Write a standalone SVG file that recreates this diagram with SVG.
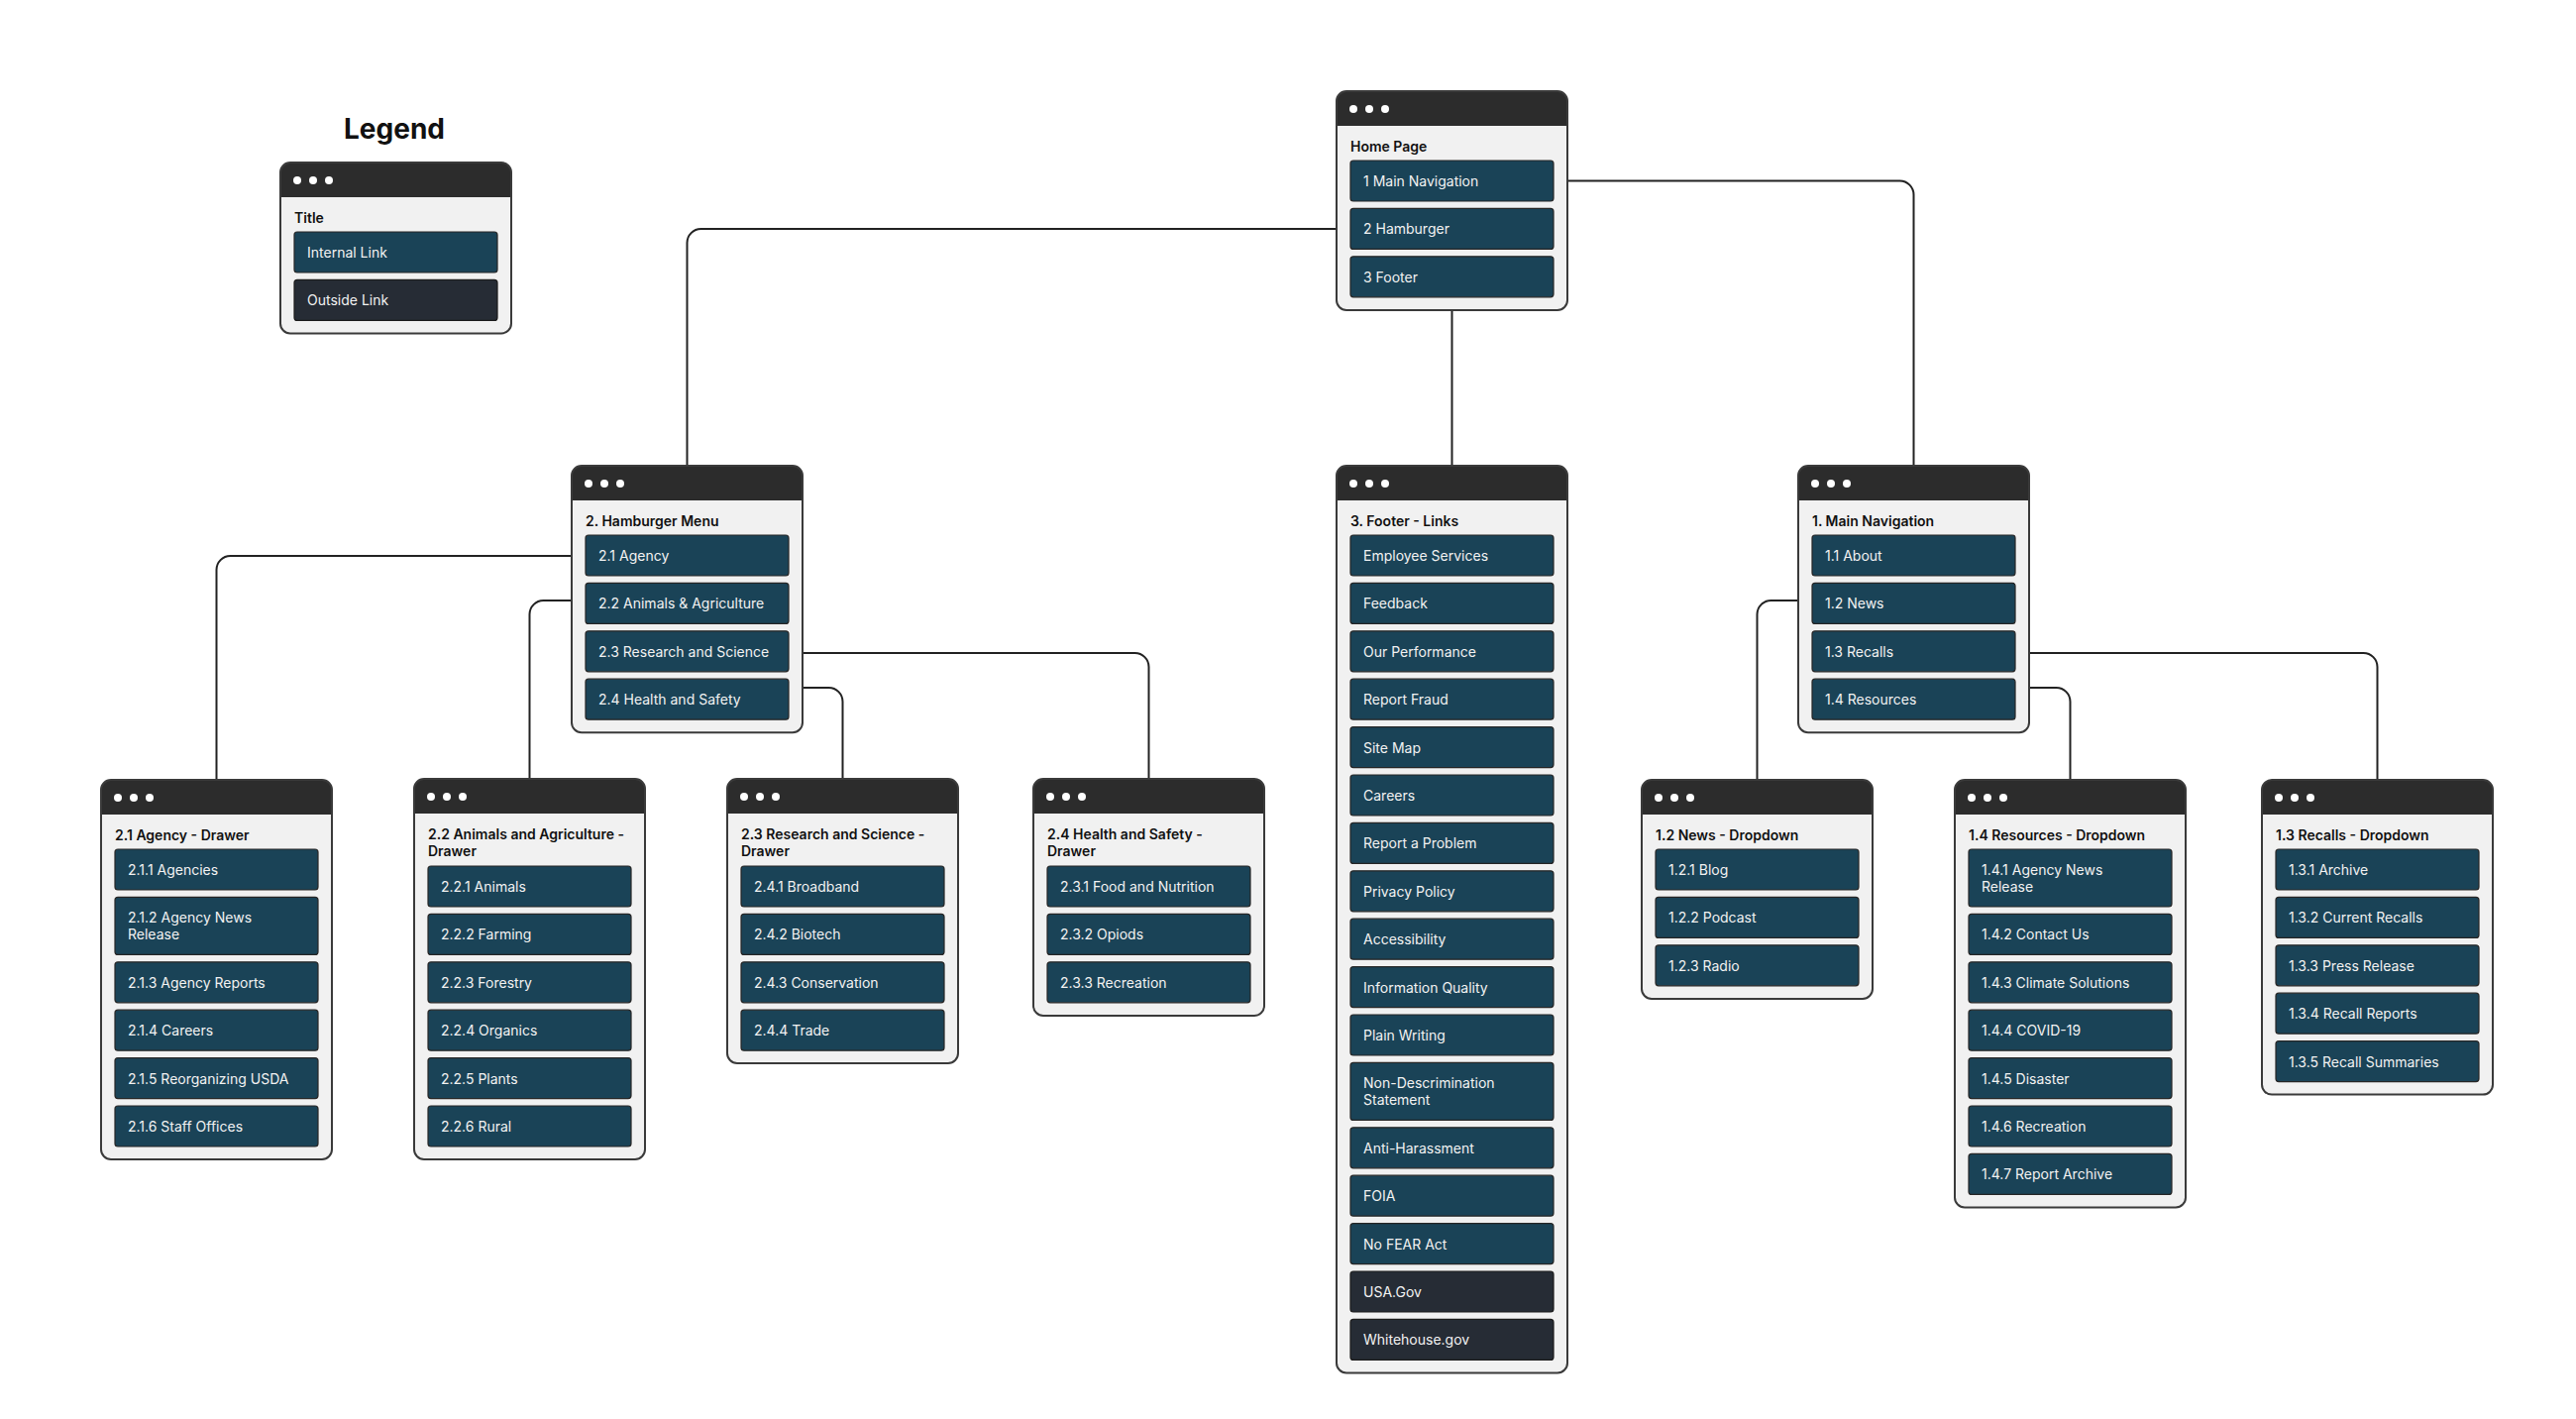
<svg xmlns="http://www.w3.org/2000/svg" width="2600" height="1432" viewBox="0 0 2600 1432">
<style>
.bg{fill:#ffffff}
.card{fill:#f1f1f1}
.hdr{fill:#2c2c2c}
.dot{fill:#ffffff}
.outline{fill:none;stroke:#3a3a3a;stroke-width:2}
.btn{fill:#1a4357;stroke:#262626;stroke-width:1.2}
.out{fill:#262c35;stroke:#1c1c1c;stroke-width:1.2}
.ttl{font-family:Inter,"Liberation Sans",sans-serif;font-size:14px;font-weight:600;fill:#111111}
.bt{font-family:Inter,"Liberation Sans",sans-serif;font-size:14px;font-weight:400;fill:#f2f2f2}
.legend{font-family:Inter,"Liberation Sans",sans-serif;font-size:28px;font-weight:700;fill:#111111}
.conn{fill:none;stroke:#222222;stroke-width:2}
</style>
<defs>
<path id="hdr" class="hdr" d="M0,35V10A10,10 0 0 1 10,0H223A10,10 0 0 1 233,10V35Z"/>
<g id="dots"><circle class="dot" cx="17" cy="18" r="4"/><circle class="dot" cx="33" cy="18" r="4"/><circle class="dot" cx="49" cy="18" r="4"/></g>
</defs>
<rect class="bg" width="2600" height="1432"/>

<g id="connectors">
<path class="conn" d="M1349,231H707.5A14,14 0 0 0 693.5,245V470"/>
<path class="conn" d="M1582,182.5H1917.5A14,14 0 0 1 1931.5,196.5V470"/>
<path class="conn" d="M1465.5,313V470"/>
<path class="conn" d="M577,561H232.5A14,14 0 0 0 218.5,575V787"/>
<path class="conn" d="M577,606H548.5A14,14 0 0 0 534.5,620V786"/>
<path class="conn" d="M810,659H1145.5A14,14 0 0 1 1159.5,673V786"/>
<path class="conn" d="M810,694H836.5A14,14 0 0 1 850.5,708V786"/>
<path class="conn" d="M1815,606H1787.5A14,14 0 0 0 1773.5,620V787"/>
<path class="conn" d="M2048,659H2385.5A14,14 0 0 1 2399.5,673V787"/>
<path class="conn" d="M2048,694H2075.5A14,14 0 0 1 2089.5,708V787"/>
</g>

<g id="legend">
<text class="legend" x="398" y="140" text-anchor="middle">Legend</text>
<g transform="translate(283,164)">
<rect class="card" width="233" height="172.4" rx="10"/>
<use href="#hdr"/><use href="#dots"/>
<rect class="outline" width="233" height="172.4" rx="10"/>
<text class="ttl" x="14" y="61">Title</text>
<rect class="btn" x="14" y="70" width="205" height="41" rx="3"/><text class="bt" x="27" y="96">Internal Link</text>
<rect class="out" x="14" y="118.4" width="205" height="41" rx="3"/><text class="bt" x="27" y="144.4">Outside Link</text>
</g>
</g>

<g id="home" transform="translate(1349,92)">
<rect class="card" width="233" height="221" rx="10"/>
<use href="#hdr"/><use href="#dots"/>
<rect class="outline" width="233" height="221" rx="10"/>
<text class="ttl" x="14" y="61">Home Page</text>
<rect class="btn" x="14" y="70" width="205" height="41" rx="3"/><text class="bt" x="27" y="96">1 Main Navigation</text>
<rect class="btn" x="14" y="118.4" width="205" height="41" rx="3"/><text class="bt" x="27" y="144.4">2 Hamburger</text>
<rect class="btn" x="14" y="166.8" width="205" height="41" rx="3"/><text class="bt" x="27" y="192.8">3 Footer</text>
</g>

<g id="hamburger" transform="translate(577,470)">
<rect class="card" width="233" height="269.2" rx="10"/>
<use href="#hdr"/><use href="#dots"/>
<rect class="outline" width="233" height="269.2" rx="10"/>
<text class="ttl" x="14" y="61">2. Hamburger Menu</text>
<rect class="btn" x="14" y="70" width="205" height="41" rx="3"/><text class="bt" x="27" y="96">2.1 Agency</text>
<rect class="btn" x="14" y="118.4" width="205" height="41" rx="3"/><text class="bt" x="27" y="144.4">2.2 Animals &amp; Agriculture</text>
<rect class="btn" x="14" y="166.8" width="205" height="41" rx="3"/><text class="bt" x="27" y="192.8">2.3 Research and Science</text>
<rect class="btn" x="14" y="215.2" width="205" height="41" rx="3"/><text class="bt" x="27" y="241.2">2.4 Health and Safety</text>
</g>

<g id="footer" transform="translate(1349,470)">
<rect class="card" width="233" height="915.4" rx="10"/>
<use href="#hdr"/><use href="#dots"/>
<rect class="outline" width="233" height="915.4" rx="10"/>
<text class="ttl" x="14" y="61">3. Footer - Links</text>
<rect class="btn" x="14" y="70" width="205" height="41" rx="3"/><text class="bt" x="27" y="96">Employee Services</text>
<rect class="btn" x="14" y="118.4" width="205" height="41" rx="3"/><text class="bt" x="27" y="144.4">Feedback</text>
<rect class="btn" x="14" y="166.8" width="205" height="41" rx="3"/><text class="bt" x="27" y="192.8">Our Performance</text>
<rect class="btn" x="14" y="215.2" width="205" height="41" rx="3"/><text class="bt" x="27" y="241.2">Report Fraud</text>
<rect class="btn" x="14" y="263.6" width="205" height="41" rx="3"/><text class="bt" x="27" y="289.6">Site Map</text>
<rect class="btn" x="14" y="312" width="205" height="41" rx="3"/><text class="bt" x="27" y="338">Careers</text>
<rect class="btn" x="14" y="360.4" width="205" height="41" rx="3"/><text class="bt" x="27" y="386.4">Report a Problem</text>
<rect class="btn" x="14" y="408.8" width="205" height="41" rx="3"/><text class="bt" x="27" y="434.8">Privacy Policy</text>
<rect class="btn" x="14" y="457.2" width="205" height="41" rx="3"/><text class="bt" x="27" y="483.2">Accessibility</text>
<rect class="btn" x="14" y="505.6" width="205" height="41" rx="3"/><text class="bt" x="27" y="531.6">Information Quality</text>
<rect class="btn" x="14" y="554" width="205" height="41" rx="3"/><text class="bt" x="27" y="580">Plain Writing</text>
<rect class="btn" x="14" y="602.4" width="205" height="58" rx="3"/><text class="bt" x="27" y="628.4">Non-Descrimination</text><text class="bt" x="27" y="645.4">Statement</text>
<rect class="btn" x="14" y="667.8" width="205" height="41" rx="3"/><text class="bt" x="27" y="693.8">Anti-Harassment</text>
<rect class="btn" x="14" y="716.2" width="205" height="41" rx="3"/><text class="bt" x="27" y="742.2">FOIA</text>
<rect class="btn" x="14" y="764.6" width="205" height="41" rx="3"/><text class="bt" x="27" y="790.6">No FEAR Act</text>
<rect class="out" x="14" y="813" width="205" height="41" rx="3"/><text class="bt" x="27" y="839">USA.Gov</text>
<rect class="out" x="14" y="861.4" width="205" height="41" rx="3"/><text class="bt" x="27" y="887.4">Whitehouse.gov</text>
</g>

<g id="main-navigation" transform="translate(1815,470)">
<rect class="card" width="233" height="269.2" rx="10"/>
<use href="#hdr"/><use href="#dots"/>
<rect class="outline" width="233" height="269.2" rx="10"/>
<text class="ttl" x="14" y="61">1. Main Navigation</text>
<rect class="btn" x="14" y="70" width="205" height="41" rx="3"/><text class="bt" x="27" y="96">1.1 About</text>
<rect class="btn" x="14" y="118.4" width="205" height="41" rx="3"/><text class="bt" x="27" y="144.4">1.2 News</text>
<rect class="btn" x="14" y="166.8" width="205" height="41" rx="3"/><text class="bt" x="27" y="192.8">1.3 Recalls</text>
<rect class="btn" x="14" y="215.2" width="205" height="41" rx="3"/><text class="bt" x="27" y="241.2">1.4 Resources</text>
</g>

<g id="agency-drawer" transform="translate(102,787)">
<rect class="card" width="233" height="383" rx="10"/>
<use href="#hdr"/><use href="#dots"/>
<rect class="outline" width="233" height="383" rx="10"/>
<text class="ttl" x="14" y="61">2.1 Agency - Drawer</text>
<rect class="btn" x="14" y="70" width="205" height="41" rx="3"/><text class="bt" x="27" y="96">2.1.1 Agencies</text>
<rect class="btn" x="14" y="118.4" width="205" height="58" rx="3"/><text class="bt" x="27" y="144.4">2.1.2 Agency News</text><text class="bt" x="27" y="161.4">Release</text>
<rect class="btn" x="14" y="183.8" width="205" height="41" rx="3"/><text class="bt" x="27" y="209.8">2.1.3 Agency Reports</text>
<rect class="btn" x="14" y="232.2" width="205" height="41" rx="3"/><text class="bt" x="27" y="258.2">2.1.4 Careers</text>
<rect class="btn" x="14" y="280.6" width="205" height="41" rx="3"/><text class="bt" x="27" y="306.6">2.1.5 Reorganizing USDA</text>
<rect class="btn" x="14" y="329" width="205" height="41" rx="3"/><text class="bt" x="27" y="355">2.1.6 Staff Offices</text>
</g>

<g id="animals-drawer" transform="translate(418,786)">
<rect class="card" width="233" height="384" rx="10"/>
<use href="#hdr"/><use href="#dots"/>
<rect class="outline" width="233" height="384" rx="10"/>
<text class="ttl" x="14" y="61">2.2 Animals and Agriculture -</text><text class="ttl" x="14" y="77.5">Drawer</text>
<rect class="btn" x="14" y="88" width="205" height="41" rx="3"/><text class="bt" x="27" y="114">2.2.1 Animals</text>
<rect class="btn" x="14" y="136.4" width="205" height="41" rx="3"/><text class="bt" x="27" y="162.4">2.2.2 Farming</text>
<rect class="btn" x="14" y="184.8" width="205" height="41" rx="3"/><text class="bt" x="27" y="210.8">2.2.3 Forestry</text>
<rect class="btn" x="14" y="233.2" width="205" height="41" rx="3"/><text class="bt" x="27" y="259.2">2.2.4 Organics</text>
<rect class="btn" x="14" y="281.6" width="205" height="41" rx="3"/><text class="bt" x="27" y="307.6">2.2.5 Plants</text>
<rect class="btn" x="14" y="330" width="205" height="41" rx="3"/><text class="bt" x="27" y="356">2.2.6 Rural</text>
</g>

<g id="research-drawer" transform="translate(734,786)">
<rect class="card" width="233" height="287" rx="10"/>
<use href="#hdr"/><use href="#dots"/>
<rect class="outline" width="233" height="287" rx="10"/>
<text class="ttl" x="14" y="61">2.3 Research and Science -</text><text class="ttl" x="14" y="77.5">Drawer</text>
<rect class="btn" x="14" y="88" width="205" height="41" rx="3"/><text class="bt" x="27" y="114">2.4.1 Broadband</text>
<rect class="btn" x="14" y="136.4" width="205" height="41" rx="3"/><text class="bt" x="27" y="162.4">2.4.2 Biotech</text>
<rect class="btn" x="14" y="184.8" width="205" height="41" rx="3"/><text class="bt" x="27" y="210.8">2.4.3 Conservation</text>
<rect class="btn" x="14" y="233.2" width="205" height="41" rx="3"/><text class="bt" x="27" y="259.2">2.4.4 Trade</text>
</g>

<g id="health-drawer" transform="translate(1043,786)">
<rect class="card" width="233" height="239" rx="10"/>
<use href="#hdr"/><use href="#dots"/>
<rect class="outline" width="233" height="239" rx="10"/>
<text class="ttl" x="14" y="61">2.4 Health and Safety -</text><text class="ttl" x="14" y="77.5">Drawer</text>
<rect class="btn" x="14" y="88" width="205" height="41" rx="3"/><text class="bt" x="27" y="114">2.3.1 Food and Nutrition</text>
<rect class="btn" x="14" y="136.4" width="205" height="41" rx="3"/><text class="bt" x="27" y="162.4">2.3.2 Opiods</text>
<rect class="btn" x="14" y="184.8" width="205" height="41" rx="3"/><text class="bt" x="27" y="210.8">2.3.3 Recreation</text>
</g>

<g id="news-dropdown" transform="translate(1657,787)">
<rect class="card" width="233" height="221" rx="10"/>
<use href="#hdr"/><use href="#dots"/>
<rect class="outline" width="233" height="221" rx="10"/>
<text class="ttl" x="14" y="61">1.2 News - Dropdown</text>
<rect class="btn" x="14" y="70" width="205" height="41" rx="3"/><text class="bt" x="27" y="96">1.2.1 Blog</text>
<rect class="btn" x="14" y="118.4" width="205" height="41" rx="3"/><text class="bt" x="27" y="144.4">1.2.2 Podcast</text>
<rect class="btn" x="14" y="166.8" width="205" height="41" rx="3"/><text class="bt" x="27" y="192.8">1.2.3 Radio</text>
</g>

<g id="resources-dropdown" transform="translate(1973,787)">
<rect class="card" width="233" height="431.4" rx="10"/>
<use href="#hdr"/><use href="#dots"/>
<rect class="outline" width="233" height="431.4" rx="10"/>
<text class="ttl" x="14" y="61">1.4 Resources - Dropdown</text>
<rect class="btn" x="14" y="70" width="205" height="58" rx="3"/><text class="bt" x="27" y="96">1.4.1 Agency News</text><text class="bt" x="27" y="113">Release</text>
<rect class="btn" x="14" y="135.4" width="205" height="41" rx="3"/><text class="bt" x="27" y="161.4">1.4.2 Contact Us</text>
<rect class="btn" x="14" y="183.8" width="205" height="41" rx="3"/><text class="bt" x="27" y="209.8">1.4.3 Climate Solutions</text>
<rect class="btn" x="14" y="232.2" width="205" height="41" rx="3"/><text class="bt" x="27" y="258.2">1.4.4 COVID-19</text>
<rect class="btn" x="14" y="280.6" width="205" height="41" rx="3"/><text class="bt" x="27" y="306.6">1.4.5 Disaster</text>
<rect class="btn" x="14" y="329" width="205" height="41" rx="3"/><text class="bt" x="27" y="355">1.4.6 Recreation</text>
<rect class="btn" x="14" y="377.4" width="205" height="41" rx="3"/><text class="bt" x="27" y="403.4">1.4.7 Report Archive</text>
</g>

<g id="recalls-dropdown" transform="translate(2283,787)">
<rect class="card" width="233" height="317.6" rx="10"/>
<use href="#hdr"/><use href="#dots"/>
<rect class="outline" width="233" height="317.6" rx="10"/>
<text class="ttl" x="14" y="61">1.3 Recalls - Dropdown</text>
<rect class="btn" x="14" y="70" width="205" height="41" rx="3"/><text class="bt" x="27" y="96">1.3.1 Archive</text>
<rect class="btn" x="14" y="118.4" width="205" height="41" rx="3"/><text class="bt" x="27" y="144.4">1.3.2 Current Recalls</text>
<rect class="btn" x="14" y="166.8" width="205" height="41" rx="3"/><text class="bt" x="27" y="192.8">1.3.3 Press Release</text>
<rect class="btn" x="14" y="215.2" width="205" height="41" rx="3"/><text class="bt" x="27" y="241.2">1.3.4 Recall Reports</text>
<rect class="btn" x="14" y="263.6" width="205" height="41" rx="3"/><text class="bt" x="27" y="289.6">1.3.5 Recall Summaries</text>
</g>
</svg>
